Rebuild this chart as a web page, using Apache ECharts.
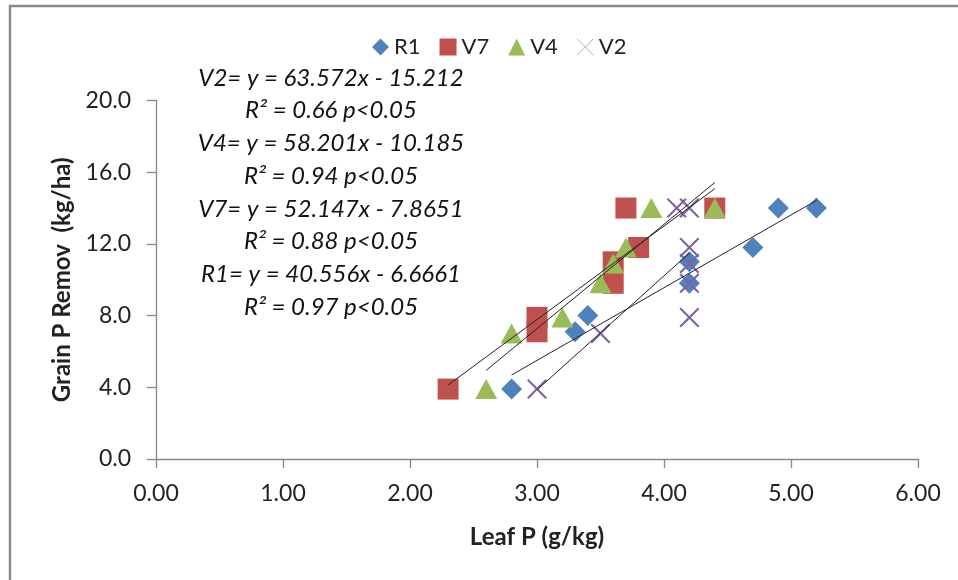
<!DOCTYPE html>
<html>
<head>
<meta charset="utf-8">
<script src="https://cdn.jsdelivr.net/npm/echarts@6/dist/echarts.min.js"></script>
<style>
html,body{margin:0;padding:0;background:#fff;}
#chart{width:958px;height:580px;}
</style>
</head>
<body>
<div id="chart"></div>
<script>
// ---- data ----
const seriesNames = ['R1', 'V7', 'V4', 'V2'];
const r1X = [2.8, 3.3, 3.4, 4.2, 4.2, 4.7, 4.9, 5.2];
const r1Y = [3.9, 7.1, 8.0, 11.0, 9.8, 11.8, 14.0, 14.0];
const v7X = [2.3, 3.0, 3.0, 3.6, 3.6, 3.8, 3.7, 4.4];
const v7Y = [3.9, 7.1, 7.9, 9.8, 11.0, 11.8, 14.0, 14.0];
const v4X = [2.6, 2.8, 3.2, 3.5, 3.6, 3.7, 3.9, 4.4];
const v4Y = [3.9, 7.0, 7.9, 9.8, 10.9, 11.8, 14.0, 14.0];
const v2X = [3.0, 3.5, 4.2, 4.2, 4.2, 4.2, 4.1, 4.2];
const v2Y = [3.9, 7.0, 7.9, 9.8, 10.9, 11.8, 14.0, 14.0];
// trend-line coefficients as printed (x expressed in %, i.e. g/kg / 10)
const slopes = [40.556, 52.147, 58.201, 63.572];
const intercepts = [-6.6661, -7.8651, -10.185, -15.212];
const annotationLines = [
  'V2= y = 63.572x - 15.212',
  'R² = 0.66 p<0.05',
  'V4= y = 58.201x - 10.185',
  'R² = 0.94 p<0.05',
  'V7= y = 52.147x - 7.8651',
  'R² = 0.88 p<0.05',
  'R1= y = 40.556x - 6.6661',
  'R² = 0.97 p<0.05'
];
const xTickMin = 0, xTickMax = 6, xTickStep = 1;
const yTickMin = 0, yTickMax = 20, yTickStep = 4;

// ---- styling ----
const FONT = 'Lato';
const colors = ['#4F81BD', '#C0504D', '#9BBB59', '#8064A2'];
const crossPath = 'path://M0,1.5 L1.5,0 L10,8.5 L18.5,0 L20,1.5 L11.5,10 L20,18.5 L18.5,20 L10,11.5 L1.5,20 L0,18.5 L8.5,10 Z';
const symbols = ['diamond', 'rect', 'triangle', crossPath];
const symbolSizes = [[21, 21], [21, 21], [22, 20], [20, 20]];

const xs = [r1X, v7X, v4X, v2X];
const ys = [r1Y, v7Y, v4Y, v2Y];

const series = [];
seriesNames.forEach((name, i) => {
  series.push({
    name: name,
    type: 'scatter',
    symbol: symbols[i],
    symbolSize: symbolSizes[i],
    itemStyle: { color: colors[i], opacity: 1 },
    data: xs[i].map((x, k) => [x, ys[i][k]]),
    z: 2
  });
});
// trend lines drawn from the regression coefficients over each series' x range
seriesNames.forEach((name, i) => {
  const x0 = Math.min(...xs[i]);
  const x1 = Math.max(...xs[i]);
  const f = x => slopes[i] * (x / 10) + intercepts[i];
  series.push({
    name: name + ' trend',
    type: 'line',
    symbol: 'none',
    silent: true,
    lineStyle: { color: '#222', width: 1 },
    data: [[x0, f(x0)], [x1, f(x1)]],
    z: 3
  });
});

const chart = echarts.init(document.getElementById('chart'));
chart.setOption({
  animation: false,
  backgroundColor: '#fff',
  grid: { left: 156, right: 40, top: 100.5, bottom: 121, containLabel: false },
  legend: {
    top: 31,
    left: 367,
    itemWidth: 17,
    itemHeight: 17,
    itemGap: 19,
    textStyle: { fontFamily: FONT, fontSize: 22, color: '#222' },
    data: seriesNames.map((n, i) => ({
      name: n,
      icon: i === 3 ? 'path://M0,0.6 L0.6,0 L10,9.4 L19.4,0 L20,0.6 L10.6,10 L20,19.4 L19.4,20 L10,10.6 L0.6,20 L0,19.4 L9.4,10 Z' : symbols[i],
      itemStyle: { color: i === 3 ? '#B5A6CF' : colors[i] }
    }))
  },
  xAxis: {
    type: 'value',
    min: xTickMin, max: xTickMax, interval: xTickStep,
    name: 'Leaf P (g/kg)',
    nameLocation: 'middle',
    nameGap: 66,
    nameTextStyle: { fontFamily: FONT, fontSize: 24, fontWeight: 'bold', color: '#222' },
    axisLine: { show: true, onZero: false, lineStyle: { color: '#888', width: 1.3 } },
    axisTick: { show: true, inside: false, length: 9, lineStyle: { color: '#888', width: 1.3 } },
    axisLabel: { margin: 23, fontFamily: FONT, fontSize: 23, color: '#222', formatter: v => v.toFixed(2) },
    splitLine: { show: false }
  },
  yAxis: {
    type: 'value',
    min: yTickMin, max: yTickMax, interval: yTickStep,
    name: 'Grain P Remov  (kg/ha)',
    nameLocation: 'middle',
    nameGap: 82,
    nameRotate: 90,
    nameTextStyle: { fontFamily: FONT, fontSize: 24, fontWeight: 'bold', color: '#222' },
    axisLine: { show: true, onZero: false, lineStyle: { color: '#888', width: 1.3 } },
    axisTick: { show: true, inside: false, length: 9, lineStyle: { color: '#888', width: 1.3 } },
    axisLabel: { margin: 25, fontFamily: FONT, fontSize: 23, color: '#222', formatter: v => v.toFixed(1) },
    splitLine: { show: false }
  },
  graphic: [
    {
      type: 'rect',
      shape: { x: 10, y: 6, width: 1000, height: 1000 },
      style: { fill: 'none', stroke: '#8a8a8a', lineWidth: 2.5 },
      silent: true,
      z: -1
    }
  ].concat(annotationLines.map((t, i) => ({
    type: 'text',
    x: 331,
    y: 78 + i * 32.7,
    style: {
      text: t,
      fontFamily: FONT,
      fontSize: 24,
      fontStyle: 'italic',
      fill: '#111',
      textAlign: 'center',
      textVerticalAlign: 'middle',
      align: 'center',
      verticalAlign: 'middle'
    },
    z: 10
  }))),
  series: series
});
</script>
</body>
</html>
